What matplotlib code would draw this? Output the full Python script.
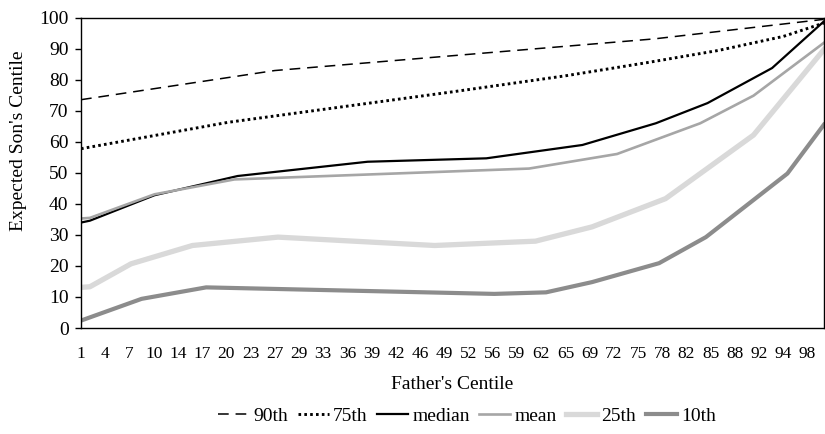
import matplotlib
matplotlib.use("Agg")
import matplotlib.pyplot as plt

# category labels along the father's centile axis (every third category)
tick_labels = ["1", "4", "7", "10", "14", "17", "20", "23", "27", "29", "33", "36",
               "39", "42", "46", "49", "52", "56", "59", "62", "65", "69", "72", "75",
               "78", "82", "85", "88", "92", "94", "98"]
n_categories = 93

# series: category position -> expected son's centile
p90_x = [1, 25, 72, 93]
p90_y = [73.6, 83.0, 93.2, 99.5]

p75_x = [1, 19.2, 47.2, 61, 71, 80, 88, 93]
p75_y = [57.8, 66.3, 76.2, 81.3, 85.5, 89.5, 94.0, 98.3]

median_x = [1, 2.1, 10.1, 20.4, 36.5, 51.2, 63.1, 72.2, 78.6, 86.6, 93]
median_y = [34.0, 34.6, 42.8, 49.0, 53.6, 54.7, 59.0, 66.0, 72.5, 83.8, 98.8]

mean_x = [1, 2.1, 10.1, 20.0, 56.5, 67.4, 77.7, 84.3, 93]
mean_y = [35.3, 35.5, 43.1, 47.9, 51.4, 56.1, 66.0, 74.9, 91.9]

p25_x = [1, 2.1, 7.2, 14.8, 25.4, 44.8, 57.3, 64.3, 73.4, 84.3, 93]
p25_y = [13.1, 13.3, 20.7, 26.6, 29.3, 26.6, 28.0, 32.6, 41.7, 62.2, 89.7]

p10_x = [1, 8.5, 16.5, 52.2, 58.6, 64.3, 72.6, 78.4, 88.5, 93]
p10_y = [2.4, 9.4, 13.1, 11.0, 11.5, 14.8, 20.9, 29.3, 49.8, 65.5]

plt.rcParams["font.family"] = ["Liberation Serif", "DejaVu Serif"]

fig = plt.figure(figsize=(8.25, 4.34), dpi=100)
ax = fig.add_axes([0.0982, 0.2442, 0.9003, 0.7148])

ax.plot(p90_x, p90_y, color="black", lw=1.1, dashes=(7, 4.5), label="90th")
ax.plot(p75_x, p75_y, color="black", lw=2.1, dashes=(0.9, 1.1), label="75th")
ax.plot(median_x, median_y, color="black", lw=1.6, label="median")
ax.plot(mean_x, mean_y, color="#a6a6a6", lw=1.9, label="mean")
ax.plot(p25_x, p25_y, color="#d9d9d9", lw=3.8, label="25th")
ax.plot(p10_x, p10_y, color="#8c8c8c", lw=3.0, label="10th")

ax.set_xlim(1, n_categories)
ax.set_ylim(0, 100)
ax.set_xticks(range(1, n_categories, 3))
ax.set_xticklabels(tick_labels)
ax.set_yticks(range(0, 101, 10))

ax.tick_params(axis="x", length=0, pad=13, labelsize=12.5)
ax.tick_params(axis="y", length=4, width=1, direction="out", pad=5, labelsize=14)
for s in ax.spines.values():
    s.set_linewidth(1.0)

ax.set_xlabel("Father's Centile", fontsize=14, labelpad=10)
fig.text(0.023, 1 - 141 / 434, "Expected Son's Centile", rotation=90,
         ha="center", va="center", fontsize=14)

fig.legend(loc="center", bbox_to_anchor=(467 / 825, 1 - 416 / 434), ncol=6,
           frameon=False, fontsize=14, handlelength=1.6, handletextpad=0.2,
           columnspacing=0.5, borderaxespad=0)

fig.savefig("out.png", dpi=100)
